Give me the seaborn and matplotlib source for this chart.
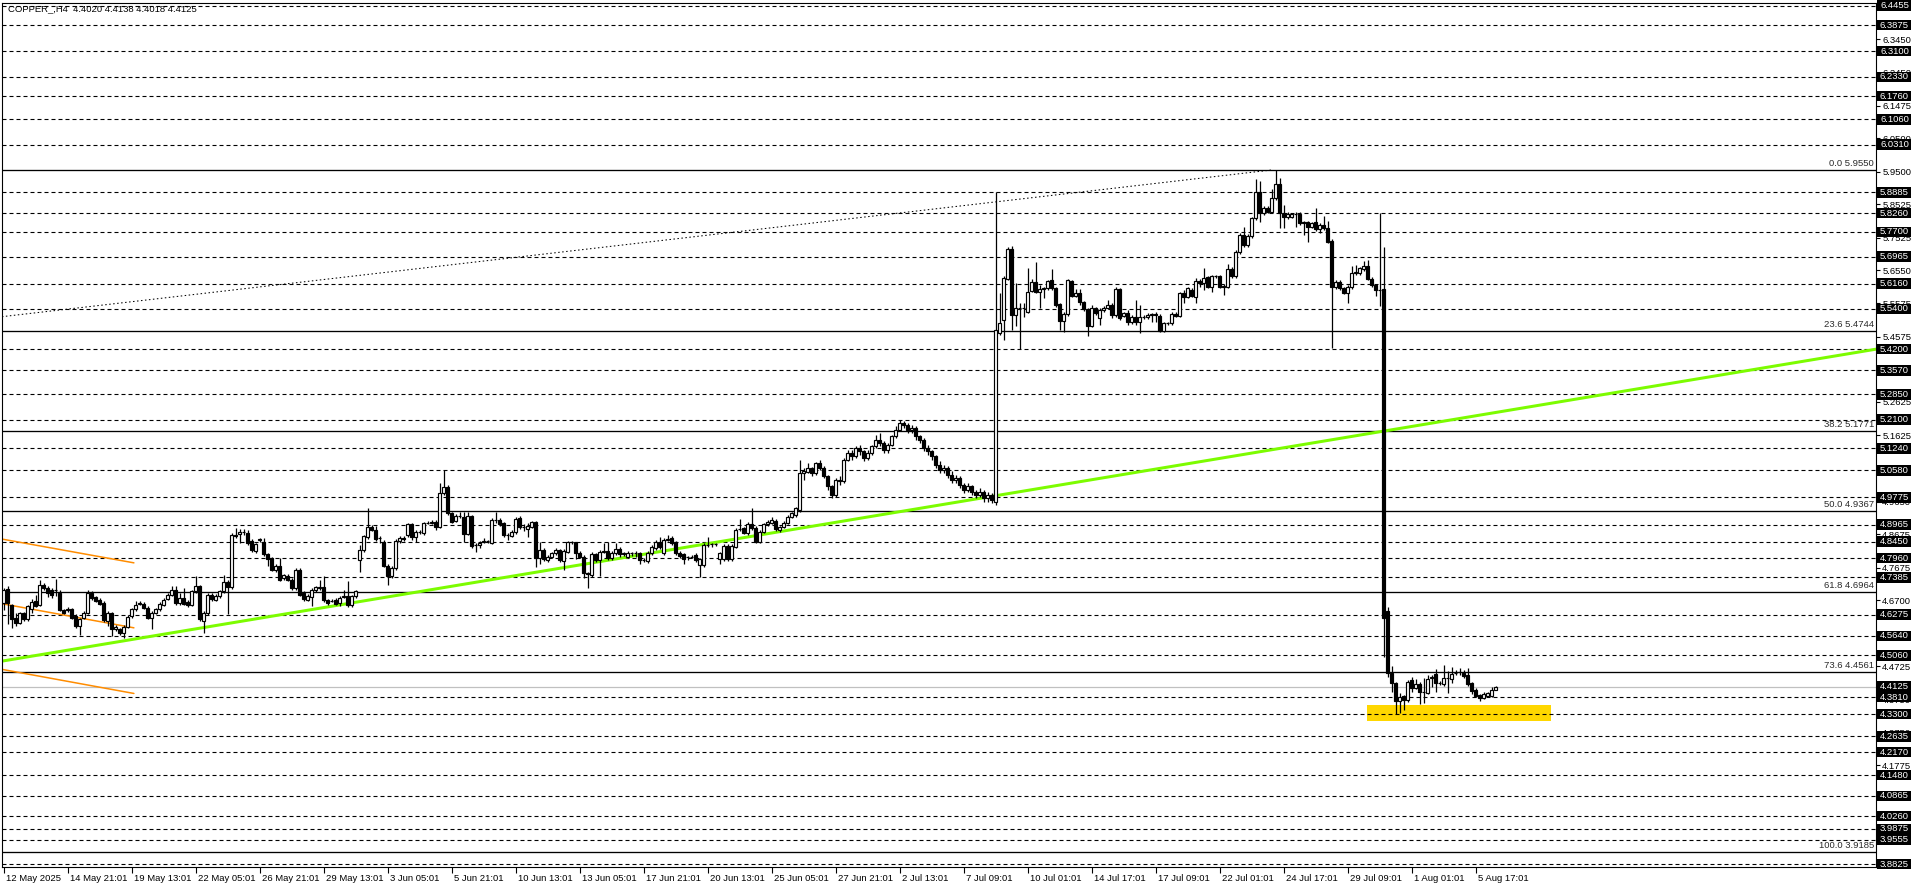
import matplotlib
matplotlib.use("Agg")
import matplotlib.pyplot as plt
import matplotlib.transforms as mtransforms
from matplotlib.patches import Rectangle
import numpy as np
import pandas as pd
import seaborn as sns

# --- header / quote ---
title_text = "COPPER_,H4  4.4020 4.4138 4.4018 4.4125"

# --- H4 candles (bar 0 = 12 May 2025) ---
opens = [
    4.662, 4.705, 4.657, 4.616, 4.603, 4.633, 4.613, 4.643, 4.667, 4.657,
    4.717, 4.707, 4.702, 4.700, 4.692, 4.641, 4.641, 4.643, 4.623, 4.593,
    4.618, 4.633, 4.692, 4.680, 4.672, 4.662, 4.608, 4.633, 4.583, 4.583,
    4.573, 4.591, 4.623, 4.643, 4.660, 4.660, 4.648, 4.618, 4.633, 4.643,
    4.657, 4.674, 4.687, 4.702, 4.662, 4.677, 4.664, 4.657, 4.697, 4.712,
    4.608, 4.631, 4.687, 4.672, 4.682, 4.697, 4.725, 4.710, 4.866, 4.869,
    4.873, 4.871, 4.847, 4.817, 4.850, 4.845, 4.809, 4.797, 4.760, 4.774,
    4.737, 4.744, 4.732, 4.707, 4.762, 4.692, 4.672, 4.680, 4.700, 4.707,
    4.709, 4.670, 4.669, 4.672, 4.662, 4.680, 4.682, 4.655, 4.682, 4.790,
    4.819, 4.859, 4.889, 4.881, 4.856, 4.845, 4.774, 4.742, 4.767, 4.847,
    4.857, 4.865, 4.897, 4.858, 4.874, 4.870, 4.902, 4.902, 4.904, 4.888,
    4.992, 5.009, 4.930, 4.908, 4.922, 4.920, 4.868, 4.922, 4.835, 4.835,
    4.843, 4.846, 4.842, 4.910, 4.910, 4.900, 4.865, 4.862, 4.873, 4.915,
    4.888, 4.884, 4.890, 4.904, 4.795, 4.820, 4.790, 4.800, 4.810, 4.820,
    4.788, 4.815, 4.843, 4.843, 4.812, 4.800, 4.751, 4.746, 4.808, 4.790,
    4.815, 4.817, 4.795, 4.812, 4.823, 4.808, 4.800, 4.812, 4.810, 4.810,
    4.790, 4.788, 4.812, 4.825, 4.843, 4.812, 4.850, 4.855, 4.843, 4.812,
    4.808, 4.798, 4.800, 4.806, 4.775, 4.775, 4.835, 4.837, 4.837, 4.792,
    4.792, 4.832, 4.792, 4.830, 4.882, 4.885, 4.870, 4.898, 4.887, 4.845,
    4.875, 4.898, 4.902, 4.907, 4.880, 4.890, 4.902, 4.920, 4.925, 4.940,
    5.049, 5.054, 5.064, 5.049, 5.079, 5.064, 5.040, 5.010, 4.985, 5.030,
    5.025, 5.090, 5.110, 5.100, 5.125, 5.115, 5.095, 5.110, 5.130, 5.150,
    5.140, 5.120, 5.135, 5.160, 5.180, 5.200, 5.195, 5.180, 5.185, 5.160,
    5.150, 5.125, 5.115, 5.100, 5.075, 5.060, 5.065, 5.045, 5.030, 5.035,
    5.015, 5.000, 5.010, 4.995, 4.985, 4.995, 4.975, 4.985, 4.965, 5.469,
    5.507, 5.631, 5.719, 5.522, 5.542, 5.542, 5.532, 5.595, 5.621, 5.592,
    5.600, 5.602, 5.626, 5.602, 5.554, 5.504, 5.524, 5.623, 5.580, 5.589,
    5.560, 5.539, 5.490, 5.542, 5.512, 5.537, 5.544, 5.552, 5.522, 5.599,
    5.520, 5.527, 5.500, 5.515, 5.500, 5.517, 5.515, 5.522, 5.524, 5.519,
    5.474, 5.497, 5.497, 5.525, 5.519, 5.587, 5.577, 5.597, 5.577, 5.624,
    5.618, 5.636, 5.607, 5.638, 5.638, 5.609, 5.607, 5.659, 5.639, 5.709,
    5.761, 5.731, 5.758, 5.811, 5.890, 5.826, 5.843, 5.831, 5.870, 5.912,
    5.828, 5.814, 5.816, 5.824, 5.824, 5.799, 5.799, 5.786, 5.799, 5.778,
    5.790, 5.781, 5.744, 5.605, 5.621, 5.602, 5.589, 5.605, 5.646, 5.648,
    5.659, 5.668, 5.631, 5.611, 5.597, 5.599, 4.638, 4.454, 4.422, 4.368,
    4.384, 4.372, 4.432, 4.409, 4.420, 4.397, 4.394, 4.437, 4.449, 4.424,
    4.419, 4.437, 4.434, 4.452, 4.455, 4.454, 4.447, 4.422, 4.402, 4.387,
    4.379, 4.385, 4.385, 4.4020,
]
highs = [
    4.707, 4.712, 4.660, 4.631, 4.636, 4.636, 4.655, 4.675, 4.687, 4.732,
    4.722, 4.712, 4.707, 4.734, 4.700, 4.645, 4.650, 4.648, 4.628, 4.618,
    4.638, 4.700, 4.697, 4.684, 4.677, 4.667, 4.638, 4.636, 4.595, 4.588,
    4.595, 4.625, 4.648, 4.667, 4.667, 4.664, 4.652, 4.638, 4.648, 4.664,
    4.677, 4.692, 4.712, 4.712, 4.692, 4.707, 4.670, 4.702, 4.742, 4.717,
    4.638, 4.692, 4.692, 4.690, 4.702, 4.747, 4.730, 4.871, 4.886, 4.883,
    4.883, 4.881, 4.852, 4.842, 4.856, 4.856, 4.812, 4.800, 4.779, 4.797,
    4.750, 4.750, 4.737, 4.767, 4.767, 4.697, 4.690, 4.707, 4.714, 4.732,
    4.744, 4.674, 4.674, 4.677, 4.684, 4.702, 4.727, 4.687, 4.702, 4.834,
    4.866, 4.946, 4.894, 4.891, 4.861, 4.850, 4.779, 4.772, 4.852, 4.861,
    4.862, 4.902, 4.900, 4.880, 4.880, 4.905, 4.907, 4.910, 4.910, 5.019,
    5.059, 5.014, 4.935, 4.927, 4.935, 4.935, 4.935, 4.925, 4.840, 4.848,
    4.855, 4.850, 4.915, 4.935, 4.915, 4.905, 4.870, 4.880, 4.920, 4.922,
    4.897, 4.900, 4.908, 4.908, 4.845, 4.825, 4.805, 4.815, 4.825, 4.823,
    4.823, 4.848, 4.848, 4.845, 4.817, 4.805, 4.756, 4.815, 4.812, 4.820,
    4.840, 4.845, 4.818, 4.840, 4.828, 4.815, 4.817, 4.815, 4.817, 4.815,
    4.795, 4.817, 4.835, 4.850, 4.860, 4.855, 4.866, 4.862, 4.848, 4.817,
    4.812, 4.803, 4.805, 4.810, 4.797, 4.840, 4.858, 4.842, 4.842, 4.815,
    4.837, 4.837, 4.837, 4.885, 4.912, 4.890, 4.905, 4.945, 4.892, 4.880,
    4.902, 4.910, 4.920, 4.912, 4.893, 4.907, 4.925, 4.935, 4.950, 5.089,
    5.064, 5.079, 5.069, 5.084, 5.089, 5.070, 5.045, 5.015, 5.035, 5.040,
    5.095, 5.120, 5.120, 5.130, 5.135, 5.120, 5.120, 5.135, 5.165, 5.170,
    5.145, 5.140, 5.165, 5.190, 5.210, 5.205, 5.200, 5.195, 5.190, 5.165,
    5.155, 5.135, 5.120, 5.105, 5.085, 5.075, 5.070, 5.055, 5.045, 5.040,
    5.020, 5.020, 5.015, 5.000, 5.005, 5.000, 4.995, 4.990, 5.890, 5.587,
    5.640, 5.726, 5.728, 5.617, 5.557, 5.557, 5.661, 5.631, 5.679, 5.611,
    5.607, 5.628, 5.658, 5.607, 5.559, 5.530, 5.631, 5.628, 5.599, 5.599,
    5.565, 5.544, 5.552, 5.547, 5.542, 5.549, 5.567, 5.557, 5.607, 5.604,
    5.532, 5.537, 5.522, 5.567, 5.552, 5.522, 5.527, 5.527, 5.532, 5.524,
    5.502, 5.502, 5.530, 5.530, 5.592, 5.597, 5.607, 5.602, 5.634, 5.631,
    5.661, 5.640, 5.643, 5.643, 5.643, 5.614, 5.674, 5.664, 5.716, 5.766,
    5.786, 5.763, 5.816, 5.927, 5.923, 5.848, 5.848, 5.897, 5.955, 5.930,
    5.852, 5.830, 5.828, 5.829, 5.829, 5.803, 5.804, 5.801, 5.843, 5.796,
    5.818, 5.803, 5.749, 5.626, 5.626, 5.607, 5.612, 5.668, 5.671, 5.666,
    5.684, 5.686, 5.636, 5.616, 5.826, 5.726, 4.651, 4.474, 4.425, 4.392,
    4.387, 4.432, 4.440, 4.434, 4.425, 4.437, 4.447, 4.447, 4.464, 4.430,
    4.477, 4.459, 4.472, 4.462, 4.467, 4.462, 4.467, 4.427, 4.407, 4.390,
    4.397, 4.397, 4.412, 4.4138,
]
lows = [
    4.640, 4.598, 4.588, 4.593, 4.598, 4.608, 4.608, 4.633, 4.650, 4.652,
    4.702, 4.680, 4.677, 4.682, 4.638, 4.628, 4.636, 4.613, 4.588, 4.568,
    4.613, 4.628, 4.672, 4.664, 4.655, 4.606, 4.593, 4.563, 4.578, 4.568,
    4.558, 4.586, 4.618, 4.638, 4.655, 4.643, 4.613, 4.583, 4.628, 4.638,
    4.652, 4.670, 4.682, 4.657, 4.657, 4.655, 4.650, 4.652, 4.692, 4.608,
    4.573, 4.626, 4.667, 4.667, 4.677, 4.692, 4.628, 4.705, 4.855, 4.842,
    4.866, 4.835, 4.815, 4.812, 4.845, 4.802, 4.772, 4.757, 4.755, 4.727,
    4.732, 4.727, 4.702, 4.702, 4.682, 4.667, 4.667, 4.652, 4.695, 4.702,
    4.665, 4.657, 4.664, 4.655, 4.652, 4.677, 4.650, 4.650, 4.677, 4.754,
    4.814, 4.854, 4.876, 4.848, 4.840, 4.769, 4.715, 4.737, 4.762, 4.842,
    4.848, 4.860, 4.850, 4.843, 4.868, 4.865, 4.897, 4.898, 4.880, 4.885,
    4.985, 4.925, 4.900, 4.903, 4.915, 4.845, 4.865, 4.826, 4.815, 4.825,
    4.840, 4.840, 4.837, 4.902, 4.892, 4.860, 4.850, 4.858, 4.868, 4.883,
    4.877, 4.860, 4.885, 4.771, 4.780, 4.787, 4.785, 4.795, 4.805, 4.785,
    4.760, 4.810, 4.838, 4.792, 4.795, 4.736, 4.706, 4.740, 4.785, 4.744,
    4.810, 4.790, 4.790, 4.806, 4.800, 4.803, 4.795, 4.803, 4.800, 4.780,
    4.785, 4.783, 4.806, 4.820, 4.823, 4.806, 4.846, 4.835, 4.806, 4.797,
    4.780, 4.790, 4.795, 4.785, 4.741, 4.770, 4.830, 4.830, 4.832, 4.780,
    4.787, 4.787, 4.787, 4.825, 4.877, 4.867, 4.865, 4.880, 4.840, 4.840,
    4.870, 4.893, 4.897, 4.877, 4.875, 4.885, 4.897, 4.915, 4.920, 4.935,
    5.030, 5.049, 5.040, 5.044, 5.059, 5.035, 5.000, 4.975, 4.980, 5.015,
    5.020, 5.085, 5.090, 5.095, 5.105, 5.085, 5.090, 5.105, 5.125, 5.130,
    5.110, 5.110, 5.130, 5.155, 5.175, 5.185, 5.170, 5.170, 5.150, 5.140,
    5.115, 5.105, 5.090, 5.065, 5.050, 5.050, 5.035, 5.020, 5.020, 5.005,
    4.990, 4.995, 4.985, 4.975, 4.980, 4.965, 4.965, 4.960, 4.955, 5.462,
    5.447, 5.626, 5.477, 5.489, 5.420, 5.517, 5.527, 5.590, 5.587, 5.542,
    5.572, 5.597, 5.597, 5.546, 5.477, 5.472, 5.519, 5.575, 5.575, 5.552,
    5.534, 5.459, 5.485, 5.522, 5.492, 5.532, 5.539, 5.512, 5.517, 5.507,
    5.515, 5.492, 5.495, 5.492, 5.467, 5.510, 5.510, 5.500, 5.500, 5.470,
    5.472, 5.492, 5.492, 5.515, 5.515, 5.557, 5.572, 5.575, 5.557, 5.607,
    5.597, 5.602, 5.592, 5.633, 5.602, 5.582, 5.602, 5.634, 5.634, 5.704,
    5.726, 5.726, 5.753, 5.806, 5.801, 5.821, 5.826, 5.826, 5.865, 5.783,
    5.783, 5.809, 5.811, 5.784, 5.791, 5.761, 5.741, 5.781, 5.773, 5.766,
    5.776, 5.736, 5.425, 5.600, 5.597, 5.584, 5.559, 5.600, 5.641, 5.643,
    5.654, 5.626, 5.606, 5.579, 5.549, 4.501, 4.442, 4.397, 4.331, 4.335,
    4.343, 4.367, 4.395, 4.405, 4.360, 4.363, 4.390, 4.410, 4.397, 4.418,
    4.414, 4.394, 4.422, 4.447, 4.447, 4.439, 4.415, 4.390, 4.380, 4.368,
    4.375, 4.380, 4.382, 4.4018,
]
closes = [
    4.702, 4.662, 4.613, 4.603, 4.633, 4.613, 4.652, 4.665, 4.654, 4.717,
    4.707, 4.692, 4.687, 4.702, 4.641, 4.633, 4.645, 4.618, 4.593, 4.613,
    4.633, 4.692, 4.677, 4.669, 4.660, 4.611, 4.633, 4.583, 4.591, 4.573,
    4.591, 4.620, 4.643, 4.657, 4.662, 4.648, 4.618, 4.633, 4.643, 4.659,
    4.672, 4.687, 4.702, 4.662, 4.677, 4.660, 4.657, 4.697, 4.712, 4.613,
    4.633, 4.687, 4.674, 4.684, 4.697, 4.725, 4.710, 4.866, 4.861, 4.873,
    4.873, 4.840, 4.820, 4.837, 4.852, 4.807, 4.792, 4.762, 4.774, 4.732,
    4.745, 4.732, 4.707, 4.762, 4.687, 4.674, 4.684, 4.702, 4.709, 4.709,
    4.670, 4.662, 4.669, 4.660, 4.678, 4.682, 4.655, 4.682, 4.697, 4.819,
    4.861, 4.889, 4.881, 4.853, 4.856, 4.774, 4.742, 4.767, 4.847, 4.856,
    4.852, 4.897, 4.858, 4.874, 4.875, 4.902, 4.902, 4.904, 4.888, 4.992,
    5.007, 4.930, 4.905, 4.922, 4.922, 4.868, 4.922, 4.832, 4.835, 4.842,
    4.846, 4.846, 4.910, 4.910, 4.897, 4.865, 4.865, 4.875, 4.913, 4.888,
    4.888, 4.892, 4.904, 4.795, 4.820, 4.792, 4.800, 4.810, 4.820, 4.790,
    4.817, 4.843, 4.843, 4.812, 4.800, 4.751, 4.750, 4.808, 4.790, 4.815,
    4.817, 4.795, 4.812, 4.823, 4.808, 4.810, 4.812, 4.810, 4.810, 4.790,
    4.790, 4.812, 4.830, 4.845, 4.828, 4.850, 4.852, 4.840, 4.812, 4.802,
    4.792, 4.798, 4.800, 4.790, 4.792, 4.835, 4.835, 4.837, 4.837, 4.810,
    4.832, 4.792, 4.832, 4.880, 4.882, 4.872, 4.898, 4.885, 4.845, 4.875,
    4.898, 4.904, 4.910, 4.882, 4.888, 4.902, 4.920, 4.930, 4.945, 5.049,
    5.056, 5.064, 5.049, 5.079, 5.064, 5.040, 5.010, 4.985, 5.030, 5.025,
    5.090, 5.110, 5.100, 5.125, 5.115, 5.095, 5.110, 5.130, 5.150, 5.140,
    5.120, 5.135, 5.160, 5.180, 5.200, 5.195, 5.180, 5.185, 5.160, 5.150,
    5.125, 5.115, 5.100, 5.075, 5.060, 5.065, 5.045, 5.030, 5.035, 5.015,
    5.000, 5.010, 4.995, 4.985, 4.995, 4.975, 4.985, 4.970, 5.477, 5.497,
    5.633, 5.719, 5.522, 5.542, 5.542, 5.544, 5.592, 5.621, 5.592, 5.599,
    5.602, 5.623, 5.602, 5.551, 5.504, 5.524, 5.626, 5.580, 5.589, 5.560,
    5.539, 5.490, 5.542, 5.527, 5.537, 5.544, 5.552, 5.522, 5.599, 5.512,
    5.529, 5.500, 5.517, 5.500, 5.517, 5.517, 5.522, 5.524, 5.522, 5.474,
    5.497, 5.497, 5.525, 5.519, 5.587, 5.577, 5.602, 5.580, 5.624, 5.617,
    5.634, 5.607, 5.638, 5.638, 5.607, 5.607, 5.659, 5.639, 5.709, 5.761,
    5.731, 5.758, 5.811, 5.890, 5.826, 5.843, 5.831, 5.870, 5.912, 5.828,
    5.814, 5.824, 5.823, 5.824, 5.796, 5.796, 5.786, 5.796, 5.778, 5.791,
    5.781, 5.741, 5.605, 5.621, 5.602, 5.589, 5.607, 5.646, 5.649, 5.661,
    5.668, 5.631, 5.611, 5.597, 5.597, 4.617, 4.452, 4.422, 4.368, 4.380,
    4.372, 4.425, 4.409, 4.420, 4.397, 4.395, 4.434, 4.440, 4.424, 4.424,
    4.437, 4.439, 4.449, 4.454, 4.457, 4.444, 4.420, 4.400, 4.385, 4.377,
    4.390, 4.394, 4.402, 4.4125,
]

# --- time axis labels (every 16th bar) ---
label_bars = [0, 16, 32, 48, 64, 80, 96, 112, 128, 144, 160, 176,
              192, 208, 224, 240, 256, 272, 288, 304, 320, 336, 352, 368]
time_labels = ["12 May 2025", "14 May 21:01", "19 May 13:01", "22 May 05:01",
               "26 May 21:01", "29 May 13:01", "3 Jun 05:01", "5 Jun 21:01",
               "10 Jun 13:01", "13 Jun 05:01", "17 Jun 21:01", "20 Jun 13:01",
               "25 Jun 05:01", "27 Jun 21:01", "2 Jul 13:01", "7 Jul 09:01",
               "10 Jul 01:01", "14 Jul 17:01", "17 Jul 09:01", "22 Jul 01:01",
               "24 Jul 17:01", "29 Jul 09:01", "1 Aug 01:01", "5 Aug 17:01"]

# --- price scale ---
axis_ticks = [6.3450, 6.2450, 6.1475, 6.0500, 5.9500, 5.8525, 5.7525, 5.6550,
              5.5575, 5.4575, 5.3600, 5.2625, 5.1625, 5.0650, 4.9650, 4.8675,
              4.7675, 4.6700, 4.5725, 4.4725, 4.3750, 4.2750, 4.1775, 4.0800,
              3.9800]
hline_levels = [6.4455, 6.3875, 6.3100, 6.2330, 6.1760, 6.1060, 6.0310, 5.8885,
                5.8260, 5.7700, 5.6965, 5.6160, 5.5400, 5.4200, 5.3570, 5.2850,
                5.2100, 5.1240, 5.0580, 4.9775, 4.8965, 4.8450, 4.7960, 4.7385,
                4.6275, 4.5640, 4.5060, 4.3810, 4.3300, 4.2635, 4.2170, 4.1480,
                4.0865, 4.0260, 3.9875, 3.9555, 3.8825]
bid_price = 4.4125

# --- fibonacci retracement ---
fib_ratios = ["0.0", "23.6", "38.2", "50.0", "61.8", "73.6", "100.0"]
fib_levels = [5.9550, 5.4744, 5.1771, 4.9367, 4.6964, 4.4561, 3.9185]
fib_anchor_bars = [-0.4, 317.0]
fib_anchor_prices = [5.517, 5.955]

# --- drawn objects ---
trend_bars = [-0.4, 468.1]
trend_prices = [4.4885, 5.420]
channel_bars = [-0.4, 32.6]
channel_upper = [4.853, 4.782]
channel_mid = [4.660, 4.588]
channel_lower = [4.464, 4.392]
zone_bars = [340.9, 386.9]
zone_low = 4.3098
zone_high = 4.3575

sns.set_theme(style="white")
plt.rcParams["font.family"] = ["Liberation Sans", "DejaVu Sans"]
plt.rcParams["lines.scale_dashes"] = False

W, H = 1916, 888
PX = 72 / 100  # points per pixel at dpi 100
FS = 6.8

fig = plt.figure(figsize=(W / 100, H / 100), dpi=100, facecolor="white")
ax = fig.add_axes([2 / W, 21 / H, 1874 / W, 864.3 / H])
ax.set_facecolor("white")

df = pd.DataFrame({"open": opens, "high": highs, "low": lows, "close": closes})
df["bar"] = np.arange(len(df))
up = df["close"] >= df["open"]

# background objects
ax.fill_between(zone_bars, zone_low, zone_high, color="#FFD700", lw=0, zorder=0.6)
for lv in hline_levels:
    ax.axhline(lv, color="black", lw=0.8, dashes=(4 * PX, 3 * PX), zorder=1)
for lv in fib_levels:
    ax.axhline(lv, color="black", lw=0.95, zorder=1.1)
ax.axhline(bid_price, color="#c0c0c0", lw=0.9, zorder=1.05)
ax.plot(fib_anchor_bars, fib_anchor_prices, color="black", lw=0.75,
        dashes=(1.5 * PX, 2.5 * PX), zorder=1.2)

sns.lineplot(x=channel_bars, y=channel_upper, ax=ax, color="#FF8C00", lw=1.1, zorder=1.3)
sns.lineplot(x=channel_bars, y=channel_mid, ax=ax, color="#FF8C00", lw=1.1, zorder=1.3)
sns.lineplot(x=channel_bars, y=channel_lower, ax=ax, color="#FF8C00", lw=1.1, zorder=1.3)
sns.lineplot(x=trend_bars, y=trend_prices, ax=ax, color="#7CFC00", lw=3 * PX, zorder=1.4)

# candles: hollow bulls, filled bears
ax.vlines(df["bar"], df["low"], df["high"], color="black", lw=0.9, zorder=3)
ax.bar(df.loc[up, "bar"], df.loc[up, "close"] - df.loc[up, "open"],
       bottom=df.loc[up, "open"], width=0.55, facecolor="white",
       edgecolor="black", linewidth=0.85, zorder=4)
ax.bar(df.loc[~up, "bar"], df.loc[~up, "open"] - df.loc[~up, "close"],
       bottom=df.loc[~up, "close"], width=0.55, facecolor="black",
       edgecolor="black", linewidth=0.85, zorder=4)

ax.set_xlim(-0.375, 468.125)
ax.set_ylim(3.8738, 6.4546)

# price scale on the right
ax.yaxis.tick_right()
ax.set_yticks(axis_ticks)
ax.set_yticklabels([f"{v:.4f}" for v in axis_ticks])
ax.tick_params(axis="y", direction="out", length=3, width=0.8, pad=1.5,
               labelsize=FS, colors="black", left=False, right=True)

# time scale
ax.set_xticks(label_bars)
ax.set_xticklabels(time_labels, ha="left")
ax.tick_params(axis="x", direction="out", length=4, width=0.8, pad=1.0,
               labelsize=FS, colors="black", bottom=True)
shift = mtransforms.ScaledTranslation(2 / 100, 0, fig.dpi_scale_trans)
for lbl in ax.get_xticklabels():
    lbl.set_transform(lbl.get_transform() + shift)

ax.grid(False)
for sp in ax.spines.values():
    sp.set_color("black")
    sp.set_linewidth(0.8)

blend = mtransforms.blended_transform_factory(ax.transAxes, ax.transData)
ppu = 864.3 / (6.4546 - 3.8738)  # pixels per price unit
box_w = 34 / 1874
box_h = 10.5 / ppu

# black price boxes for the horizontal lines and the bid
for lv in hline_levels + [bid_price]:
    ax.add_patch(Rectangle((1 + 1.5 / 1874, lv - box_h / 2), box_w, box_h,
                           transform=blend, facecolor="black", edgecolor="none",
                           clip_on=False, zorder=5))
    ax.text(1 + 18.5 / 1874, lv, f"{lv:.4f}", transform=blend, ha="center",
            va="center", color="white", fontsize=FS, zorder=6, clip_on=False)

# fibo level captions
for r, lv in zip(fib_ratios, fib_levels):
    ax.text(1 - 2 / 1874, lv + 2 / ppu, f"{r} {lv:.4f}", transform=blend,
            ha="right", va="bottom", color="#2a2a2a", fontsize=FS, zorder=6)

fig.text(8 / W, 1 - 8.5 / H, title_text, ha="left", va="center",
         fontsize=FS, color="black")

fig.savefig("out.png", dpi=100, facecolor="white")
